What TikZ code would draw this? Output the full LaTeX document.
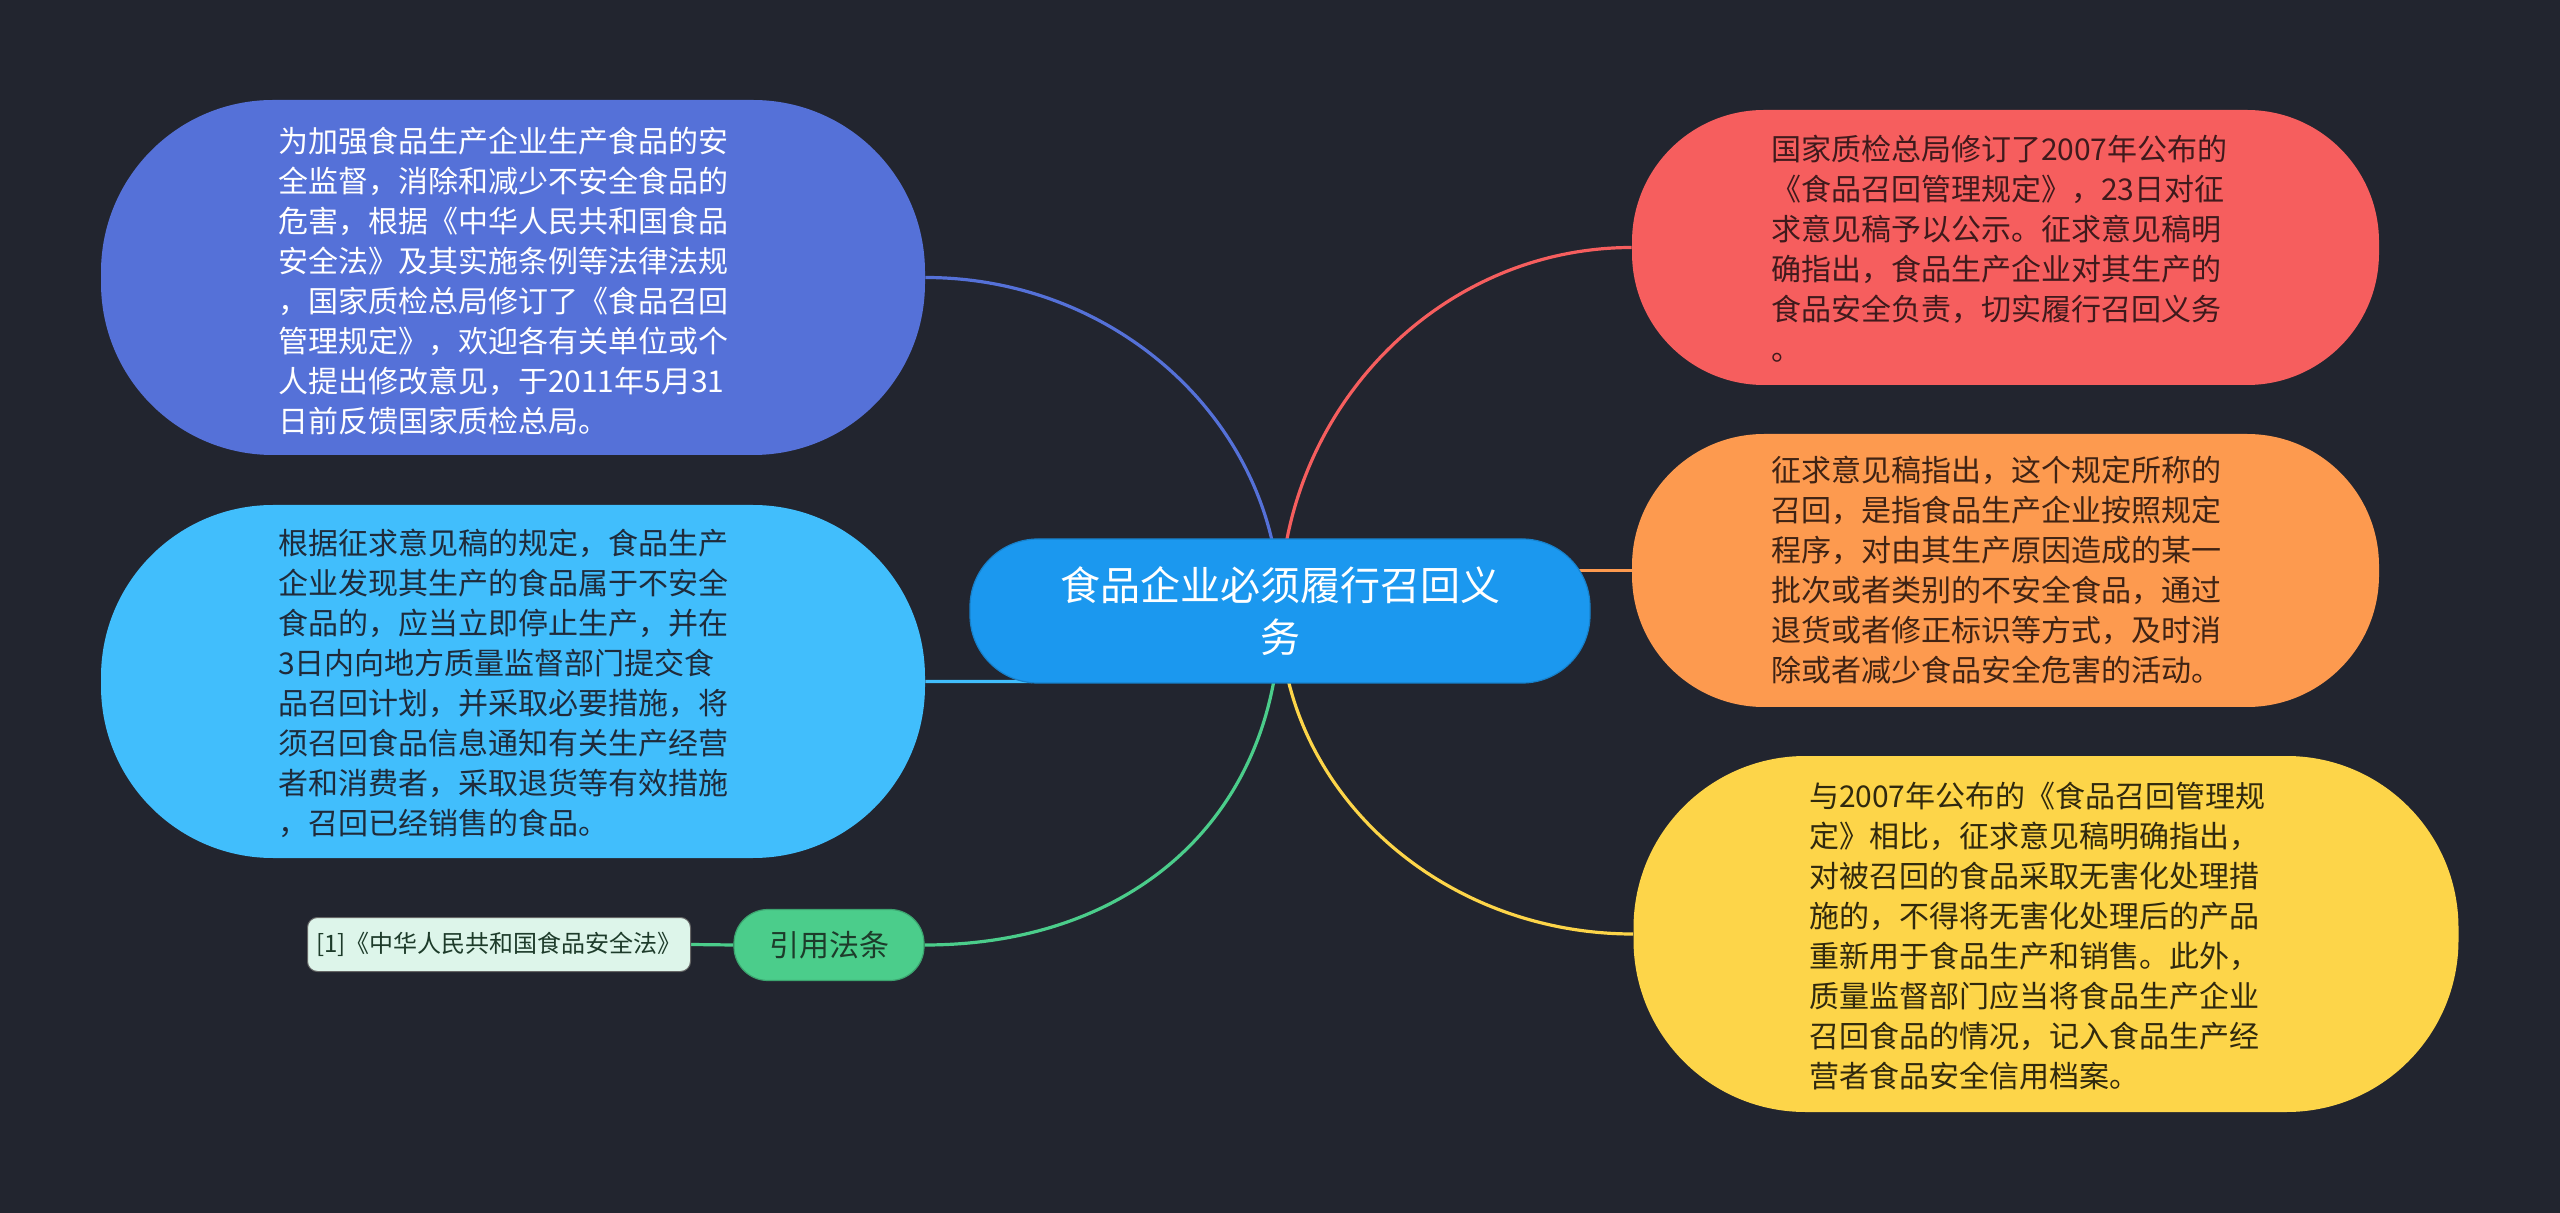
\documentclass[tikz,border=0pt]{standalone}
\usepackage{fontspec}
\newfontfamily\cjk{Noto Sans CJK SC}
\usetikzlibrary{calc}
\definecolor{bgc}{HTML}{22252F}
\definecolor{cA}{HTML}{5571D8}
\definecolor{cB}{HTML}{41BEFC}
\definecolor{cC}{HTML}{1B98EF}
\definecolor{cR}{HTML}{F65E5E}
\definecolor{cO}{HTML}{FD9A4F}
\definecolor{cY}{HTML}{FDD549}
\definecolor{cG}{HTML}{4BCD8B}
\definecolor{cL}{HTML}{DDF5EA}
\definecolor{tB}{HTML}{1F2B3B}
\definecolor{tR}{HTML}{3F1A1C}
\definecolor{tO}{HTML}{3F2314}
\definecolor{tY}{HTML}{30290E}
\definecolor{tG}{HTML}{1D3B2A}
\pgfdeclarelayer{bg}
\pgfdeclarelayer{edges}
\pgfsetlayers{bg,edges,main}
\tikzset{
  blob/.style={inner sep=0pt, draw=none},
  body/.style={font=\cjk\fontsize{15pt}{20pt}\selectfont, align=left, text width=226pt, inner sep=0pt},
  link/.style={line width=1.6pt},
}
\begin{document}
\begin{tikzpicture}[x=0.5pt,y=-0.5pt]
\begin{pgfonlayer}{bg}
\fill[bgc] (0,0) rectangle (2560,1213);
\end{pgfonlayer}
\useasboundingbox (0,0) rectangle (2560,1213);

% shapes
\node[blob, fill=cA, minimum width=412pt, minimum height=177.5pt, rounded corners=86pt] (n1) at (513,277.5) {};
\node[blob, fill=cB, minimum width=412pt, minimum height=176.5pt, rounded corners=86pt] (n2) at (513,681.5) {};
\node[blob, fill=cR, minimum width=373.5pt, minimum height=137.5pt, rounded corners=66pt] (n5) at (2005.5,247.5) {};
\node[blob, fill=cO, minimum width=373.5pt, minimum height=136.5pt, rounded corners=66pt] (n6) at (2005.5,570.5) {};
\node[blob, fill=cY, minimum width=412.5pt, minimum height=178pt, rounded corners=86pt] (n7) at (2046,934) {};
\node[blob, fill=cC, draw=cC!85!black, line width=0.6pt, minimum width=310pt, minimum height=72pt, rounded corners=34pt,
      text=white, align=center, font=\cjk\fontsize{20pt}{26pt}\selectfont] (c) at (1280,611)
      {食品企业必须履行召回义\\务};
\node[blob, fill=cG, draw=cG!80!black, line width=0.6pt, minimum width=95pt, minimum height=35.5pt, rounded corners=17pt,
      text=tG, font=\cjk\fontsize{15pt}{18pt}\selectfont] (n3) at (829,945) {引用法条};
\node[blob, fill=cL, draw=black!60, line width=0.5pt, minimum width=191.5pt, minimum height=27pt, rounded corners=5pt,
      text=tG, font=\cjk\fontsize{12pt}{14pt}\selectfont] (n4) at (499,944.5) {[1]《中华人民共和国食品安全法》};

% texts
\node[body, text=white] (t1) at (504,281) {为加强食品生产企业生产食品的安\\全监督，消除和减少不安全食品的\\危害，根据《中华人民共和国食品\\安全法》及其实施条例等法律法规\\，国家质检总局修订了《食品召回\\管理规定》，欢迎各有关单位或个\\人提出修改意见，于2011年5月31\\日前反馈国家质检总局。};
\node[body, text=tB] (t2) at (504,683) {根据征求意见稿的规定，食品生产\\企业发现其生产的食品属于不安全\\食品的，应当立即停止生产，并在\\3日内向地方质量监督部门提交食\\品召回计划，并采取必要措施，将\\须召回食品信息通知有关生产经营\\者和消费者，采取退货等有效措施\\，召回已经销售的食品。};
\node[body, text=tR] (t5) at (1997,249) {国家质检总局修订了2007年公布的\\《食品召回管理规定》，23日对征\\求意见稿予以公示。征求意见稿明\\确指出，食品生产企业对其生产的\\食品安全负责，切实履行召回义务\\。};
\node[body, text=tO] (t6) at (1997,570) {征求意见稿指出，这个规定所称的\\召回，是指食品生产企业按照规定\\程序，对由其生产原因造成的某一\\批次或者类别的不安全食品，通过\\退货或者修正标识等方式，及时消\\除或者减少食品安全危害的活动。};
\node[body, text=tY] (t7) at (2035,936) {与2007年公布的《食品召回管理规\\定》相比，征求意见稿明确指出，\\对被召回的食品采取无害化处理措\\施的，不得将无害化处理后的产品\\重新用于食品生产和销售。此外，\\质量监督部门应当将食品生产企业\\召回食品的情况，记入食品生产经\\营者食品安全信用档案。};

% connectors
\begin{pgfonlayer}{edges}
\draw[link, cA] (c.center) .. controls ($(c.center)!0.55!(c.center |- n1.east)$) and ($(n1.east)!0.55!(c.center |- n1.east)$) .. (n1.east);
\draw[link, cR] (c.center) .. controls ($(c.center)!0.55!(c.center |- n5.west)$) and ($(n5.west)!0.55!(c.center |- n5.west)$) .. (n5.west);
\draw[link, cY] (c.center) .. controls ($(c.center)!0.55!(c.center |- n7.west)$) and ($(n7.west)!0.55!(c.center |- n7.west)$) .. (n7.west);
\draw[link, cG] (c.center) .. controls ($(c.center)!0.6!(c.center |- n3.east)$) and ($(n3.east)!0.6!(c.center |- n3.east)$) .. (n3.east);
\draw[link, cB] (c.center) .. controls (c.center |- n2.east) .. (n2.east);
\draw[link, cO] (c.center |- n6.west) -- (n6.west);
\draw[link, cG] (n3.west) -- (n4.east);
\end{pgfonlayer}
\end{tikzpicture}
\end{document}
